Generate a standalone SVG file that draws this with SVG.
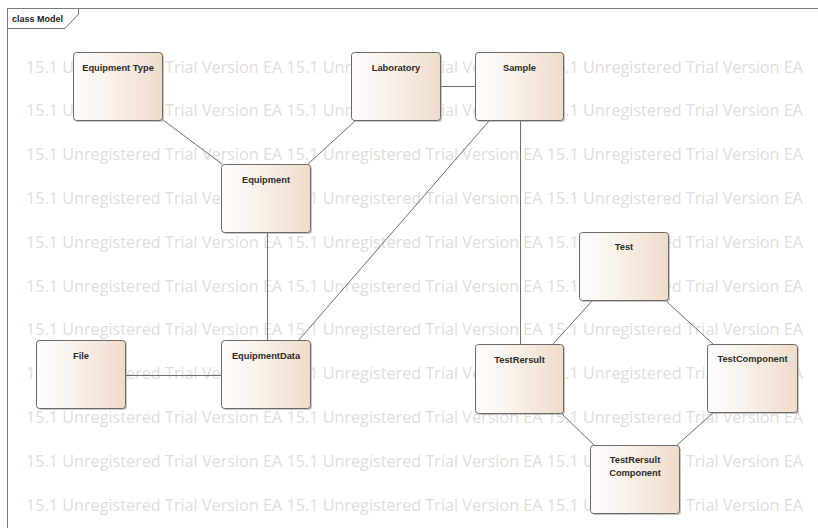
<svg xmlns="http://www.w3.org/2000/svg" width="818" height="528" viewBox="0 0 818 528">
  <defs>
    <linearGradient id="nodeFill" x1="0" y1="0" x2="1" y2="0">
      <stop offset="0" stop-color="#fefcfb"/>
      <stop offset="0.35" stop-color="#fbf4ee"/>
      <stop offset="1" stop-color="#eedcca"/>
    </linearGradient>
  </defs>
  <style>
    .bg { fill: #ffffff; }
    .frame { fill: none; stroke: #7a7a7a; stroke-width: 1; }
    .tab { fill: #ffffff; stroke: #7a7a7a; stroke-width: 1; }
    .tabText { font-family: "Liberation Sans", Arial, sans-serif; font-weight: bold; font-size: 9px; fill: #222; }
    .wm { font-family: "Open Sans", "Noto Sans", sans-serif; font-size: 16.2px; fill: #e0dddd; }
    .edge { stroke: #707070; stroke-width: 1; fill: none; }
    .shadow { fill: #9a9a9a; opacity: 0.55; }
    .box { fill: url(#nodeFill); stroke: #6a6a6a; stroke-width: 1; }
    .label { font-family: "Liberation Sans", Arial, sans-serif; font-weight: bold; font-size: 9.3px; fill: #2b2b2b; text-anchor: middle; }
  </style>

  <rect class="bg" x="0" y="0" width="818" height="528"/>

  <!-- evaluation watermark rows -->
  <g id="watermark">
    <text class="wm" x="26" y="72.5" textLength="777">15.1 Unregistered Trial Version EA 15.1 Unregistered Trial Version EA 15.1 Unregistered Trial Version EA</text>
    <text class="wm" x="26" y="116.3" textLength="777">15.1 Unregistered Trial Version EA 15.1 Unregistered Trial Version EA 15.1 Unregistered Trial Version EA</text>
    <text class="wm" x="26" y="160.1" textLength="777">15.1 Unregistered Trial Version EA 15.1 Unregistered Trial Version EA 15.1 Unregistered Trial Version EA</text>
    <text class="wm" x="26" y="203.9" textLength="777">15.1 Unregistered Trial Version EA 15.1 Unregistered Trial Version EA 15.1 Unregistered Trial Version EA</text>
    <text class="wm" x="26" y="247.7" textLength="777">15.1 Unregistered Trial Version EA 15.1 Unregistered Trial Version EA 15.1 Unregistered Trial Version EA</text>
    <text class="wm" x="26" y="291.5" textLength="777">15.1 Unregistered Trial Version EA 15.1 Unregistered Trial Version EA 15.1 Unregistered Trial Version EA</text>
    <text class="wm" x="26" y="335.3" textLength="777">15.1 Unregistered Trial Version EA 15.1 Unregistered Trial Version EA 15.1 Unregistered Trial Version EA</text>
    <text class="wm" x="26" y="379.1" textLength="777">15.1 Unregistered Trial Version EA 15.1 Unregistered Trial Version EA 15.1 Unregistered Trial Version EA</text>
    <text class="wm" x="26" y="422.9" textLength="777">15.1 Unregistered Trial Version EA 15.1 Unregistered Trial Version EA 15.1 Unregistered Trial Version EA</text>
    <text class="wm" x="26" y="466.7" textLength="777">15.1 Unregistered Trial Version EA 15.1 Unregistered Trial Version EA 15.1 Unregistered Trial Version EA</text>
    <text class="wm" x="26" y="510.5" textLength="777">15.1 Unregistered Trial Version EA 15.1 Unregistered Trial Version EA 15.1 Unregistered Trial Version EA</text>
  </g>

  <!-- diagram frame -->
  <g id="frame">
    <path class="frame" d="M7.5,528 V8.5 H818"/>
    <path class="tab" d="M7.5,8.5 H78.5 V14 L65,28.5 H7.5 Z"/>
    <text class="tabText" x="12" y="22">class Model</text>
  </g>

  <!-- associations -->
  <g id="connectors">
    <line class="edge" x1="163" y1="120" x2="222" y2="164"/>
    <line class="edge" x1="355" y1="121" x2="308" y2="164"/>
    <line class="edge" x1="440" y1="86.5" x2="476" y2="86.5"/>
    <line class="edge" x1="267.5" y1="233" x2="267.5" y2="341"/>
    <line class="edge" x1="126" y1="375.5" x2="222" y2="375.5"/>
    <line class="edge" x1="489" y1="121" x2="298" y2="341"/>
    <line class="edge" x1="520.5" y1="121" x2="520.5" y2="344"/>
    <line class="edge" x1="592" y1="301" x2="553" y2="344"/>
    <line class="edge" x1="666" y1="301" x2="713" y2="344"/>
    <line class="edge" x1="562" y1="414" x2="594" y2="445"/>
    <line class="edge" x1="677" y1="445" x2="713" y2="413"/>
  </g>

  <g id="equipmentType">
    <rect class="shadow" x="75" y="54" width="89" height="68" rx="3"/>
    <rect class="box" x="73.5" y="52.5" width="89" height="68" rx="3"/>
    <text class="label" x="118" y="70.5">Equipment Type</text>
  </g>

  <g id="laboratory">
    <rect class="shadow" x="353" y="54" width="89" height="68" rx="3"/>
    <rect class="box" x="351.5" y="52.5" width="89" height="68" rx="3"/>
    <text class="label" x="396" y="70.5">Laboratory</text>
  </g>

  <g id="sample">
    <rect class="shadow" x="477" y="54" width="88" height="68" rx="3"/>
    <rect class="box" x="475.5" y="52.5" width="88" height="68" rx="3"/>
    <text class="label" x="519.5" y="70.5">Sample</text>
  </g>

  <g id="equipment">
    <rect class="shadow" x="223" y="166" width="89" height="68" rx="3"/>
    <rect class="box" x="221.5" y="164.5" width="89" height="68" rx="3"/>
    <text class="label" x="266" y="182.5">Equipment</text>
  </g>

  <g id="file">
    <rect class="shadow" x="38" y="342" width="89" height="68" rx="3"/>
    <rect class="box" x="36.5" y="340.5" width="89" height="68" rx="3"/>
    <text class="label" x="81" y="359">File</text>
  </g>

  <g id="equipmentData">
    <rect class="shadow" x="223" y="342" width="89" height="68" rx="3"/>
    <rect class="box" x="221.5" y="340.5" width="89" height="68" rx="3"/>
    <text class="label" x="266" y="359">EquipmentData</text>
  </g>

  <g id="test">
    <rect class="shadow" x="581" y="234" width="89" height="68" rx="3"/>
    <rect class="box" x="579.5" y="232.5" width="89" height="68" rx="3"/>
    <text class="label" x="624" y="250">Test</text>
  </g>

  <g id="testRersult">
    <rect class="shadow" x="477" y="346" width="88" height="69" rx="3"/>
    <rect class="box" x="475.5" y="344.5" width="88" height="69" rx="3"/>
    <text class="label" x="519.5" y="362.5">TestRersult</text>
  </g>

  <g id="testComponent">
    <rect class="shadow" x="709" y="346" width="90" height="68" rx="3"/>
    <rect class="box" x="707.5" y="344.5" width="90" height="68" rx="3"/>
    <text class="label" x="752.5" y="361.5">TestComponent</text>
  </g>

  <g id="testRersultComponent">
    <rect class="shadow" x="592" y="447" width="89" height="68" rx="3"/>
    <rect class="box" x="590.5" y="445.5" width="89" height="68" rx="3"/>
    <text class="label" x="635" y="463">TestRersult</text>
    <text class="label" x="635" y="476">Component</text>
  </g>
</svg>
